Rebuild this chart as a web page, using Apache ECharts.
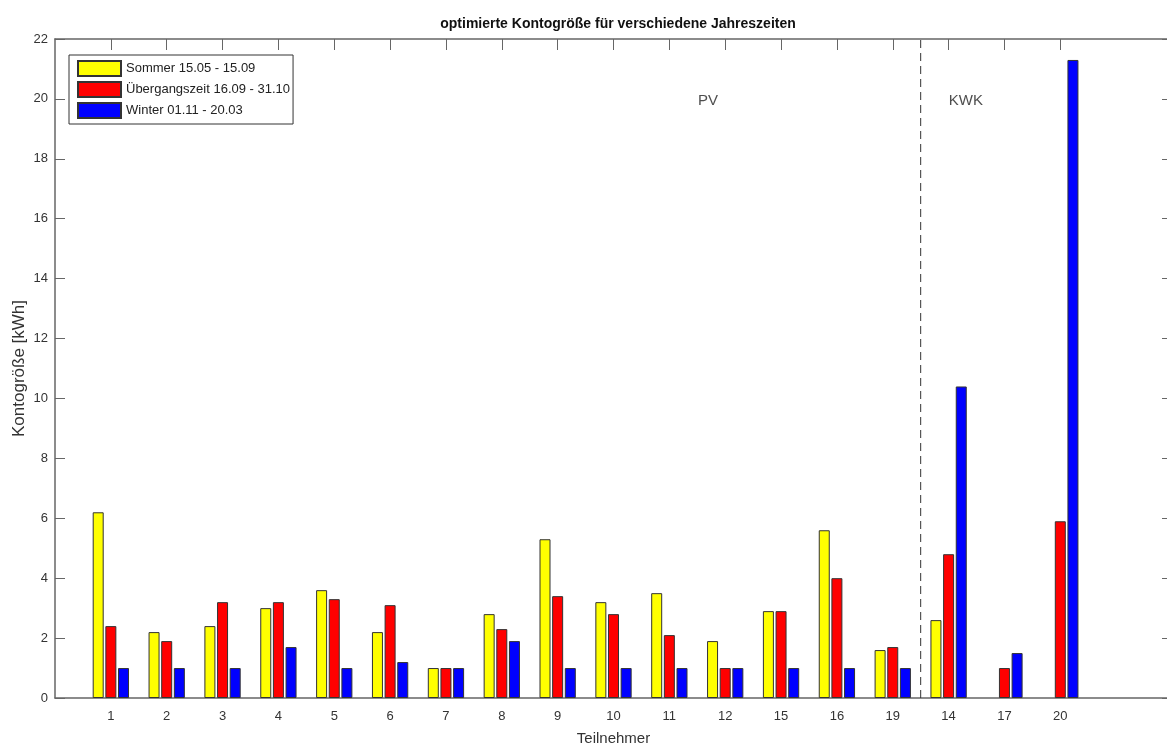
<!DOCTYPE html>
<html>
<head>
<meta charset="utf-8">
<script src="https://cdn.jsdelivr.net/npm/echarts@6/dist/echarts.min.js"></script>
<style>
html,body{margin:0;padding:0;background:#fff;}
#chart{width:1167px;height:747px;}
</style>
</head>
<body>
<div id="chart"></div>
<script>
// Teilnehmer (PV group first, then KWK group)
const pvTeilnehmer = ['1','2','3','4','5','6','7','8','9','10','11','12','15','16','19'];
const kwkTeilnehmer = ['14','17','20'];
const teilnehmer = pvTeilnehmer.concat(kwkTeilnehmer);

const seriesNames = ['Sommer 15.05 - 15.09', 'Übergangszeit 16.09 - 31.10', 'Winter 01.11 - 20.03'];
const sommer     = [6.2, 2.2, 2.4, 3.0, 3.6, 2.2, 1.0, 2.8, 5.3, 3.2, 3.5, 1.9, 2.9, 5.6, 1.6, 2.6, 0, 0];
const uebergang  = [2.4, 1.9, 3.2, 3.2, 3.3, 3.1, 1.0, 2.3, 3.4, 2.8, 2.1, 1.0, 2.9, 4.0, 1.7, 4.8, 1.0, 5.9];
const winter     = [1.0, 1.0, 1.0, 1.7, 1.0, 1.2, 1.0, 1.9, 1.0, 1.0, 1.0, 1.0, 1.0, 1.0, 1.0, 10.4, 1.5, 21.3];
const yTicks = [0, 2, 4, 6, 8, 10, 12, 14, 16, 18, 20, 22];
const annotations = [
  {text: 'PV',  x: 11.69, y: 19.93},
  {text: 'KWK', x: 16.31, y: 19.93}
];

const colors = ['#FFFF00', '#FF0000', '#0000FF'];
const FONT = 'Liberation Sans, Arial, sans-serif';
// x range 0..20 (MATLAB xlim), data at positions 1..18
const xMax = 20;
const cats = [''].concat(teilnehmer);
while (cats.length < xMax + 1) cats.push('');
function pad(arr) {
  const out = [null].concat(arr.map(v => v === 0 ? {value: 0, itemStyle: {borderWidth: 0}} : v));
  while (out.length < xMax + 1) out.push(null);
  return out;
}
const dividerX = pvTeilnehmer.length + 0.5;
const tickIdx = teilnehmer.map((_, i) => i + 1);

const chart = echarts.init(document.getElementById('chart'));
const barSeries = [sommer, uebergang, winter].map((d, i) => ({
  name: seriesNames[i],
  type: 'bar',
  xAxisIndex: 0,
  yAxisIndex: 0,
  data: pad(d),
  barWidth: 11,
  barGap: '15%',
  itemStyle: {color: colors[i], borderColor: '#333', borderWidth: 1},
  animation: false
}));

chart.setOption({
  animation: false,
  backgroundColor: '#fff',
  title: {
    text: 'optimierte Kontogröße für verschiedene Jahreszeiten',
    left: 613, top: 12, textAlign: 'center',
    textStyle: {fontFamily: FONT, fontSize: 14, fontWeight: 'bold', color: '#111'}
  },
  legend: {
    orient: 'vertical', left: 69, top: 55,
    itemWidth: 43, itemHeight: 15, itemGap: 4, itemTextGap: 4,
    padding: [5, 3, 5, 8],
    borderColor: '#333', borderWidth: 1, backgroundColor: '#fff',
    icon: 'rect',
    data: seriesNames,
    textStyle: {fontFamily: FONT, fontSize: 13, color: '#222'}
  },
  grid: {left: 55, width: 1117, top: 39, height: 659, containLabel: false, outerBoundsMode: 'none'},
  xAxis: [
    {
      type: 'category', position: 'bottom', data: cats, boundaryGap: false,
      name: 'Teilnehmer', nameLocation: 'middle', nameGap: 33, nameMoveOverlap: false,
      nameTextStyle: {fontFamily: FONT, fontSize: 15, color: '#333'},
      axisLine: {show: true, lineStyle: {color: '#666', width: 1.5}},
      axisTick: {show: true, inside: true, length: 11, lineStyle: {color: '#666'},
                 interval: function (i) { return i >= 1 && i <= teilnehmer.length; }},
      axisLabel: {interval: 0, margin: 12, fontFamily: FONT, fontSize: 13, color: '#333'},
      splitLine: {show: false}
    },
    {
      type: 'value', position: 'top', min: 0, max: xMax,
      axisLine: {show: true, onZero: false, lineStyle: {color: '#666', width: 1.5}},
      axisTick: {show: true, inside: true, length: 11, lineStyle: {color: '#666'}, customValues: tickIdx},
      axisLabel: {show: false},
      splitLine: {show: false}
    }
  ],
  yAxis: [
    {
      type: 'value', position: 'left', min: 0, max: 22, interval: 2,
      name: 'Kontogröße [kWh]', nameLocation: 'middle', nameGap: 27, nameMoveOverlap: false,
      nameTextStyle: {fontFamily: FONT, fontSize: 17, color: '#333'},
      axisLine: {show: true, lineStyle: {color: '#666', width: 1.5}},
      axisTick: {show: true, inside: true, length: 10, lineStyle: {color: '#666'}},
      axisLabel: {margin: 7, fontFamily: FONT, fontSize: 13, color: '#333',
                  formatter: v => yTicks.indexOf(v) >= 0 ? String(v) : ''},
      splitLine: {show: false}
    },
    {
      type: 'value', position: 'right', min: 0, max: 22, interval: 2,
      axisLine: {show: true, lineStyle: {color: '#666', width: 1.5}},
      axisTick: {show: true, inside: true, length: 10, lineStyle: {color: '#666'}},
      axisLabel: {show: false},
      splitLine: {show: false}
    }
  ],
  series: barSeries.concat([
    {
      type: 'line', xAxisIndex: 1, yAxisIndex: 0, symbol: 'none', silent: true,
      data: [[dividerX, 0], [dividerX, 22]],
      lineStyle: {color: '#333', width: 1, type: [8, 5]},
      z: 1
    },
    {
      type: 'scatter', xAxisIndex: 1, yAxisIndex: 0, symbolSize: 0, silent: true,
      data: annotations.map(a => ({value: [a.x, a.y], name: a.text})),
      label: {show: true, position: 'inside', formatter: p => p.name,
              fontFamily: FONT, fontSize: 15, color: '#222'}
    }
  ])
});
</script>
</body>
</html>
